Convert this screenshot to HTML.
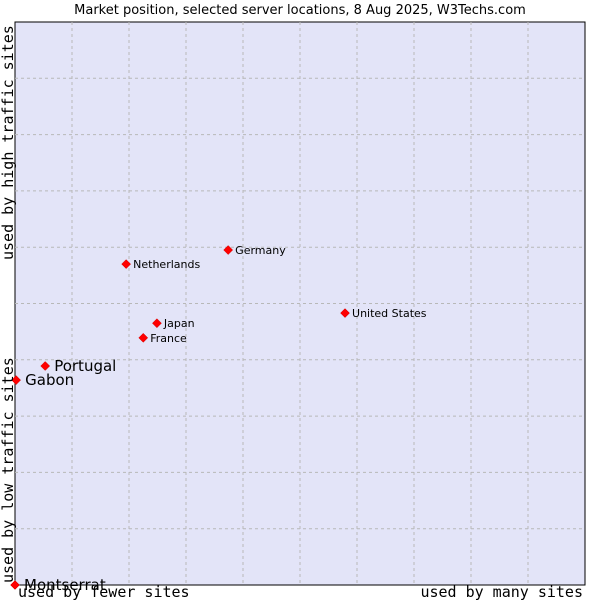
<!DOCTYPE html>
<html><head><meta charset="utf-8"><style>
body{margin:0;background:#fff;}
svg{display:block;font-family:"DejaVu Sans","Liberation Sans",sans-serif;}
.mono{font-family:"DejaVu Sans Mono","Liberation Mono",monospace;}
</style></head><body>
<svg id="chart" width="600" height="600">
<text x="300" y="14" text-anchor="middle" font-size="13">Market position, selected server locations, 8 Aug 2025, W3Techs.com</text>
<rect x="15" y="22" width="570" height="563" fill="#e3e4f8" stroke="#000" stroke-width="1"/>
<g id="grid"></g>
<g id="pts"></g>
<text class="mono" x="18" y="597" font-size="15">used by fewer sites</text>
<text class="mono" x="583" y="597" font-size="15" text-anchor="end">used by many sites</text>
<text class="mono" transform="translate(13,583) rotate(-90)" font-size="15">used by low traffic sites</text>
<text class="mono" transform="translate(13,260) rotate(-90)" font-size="15">used by high traffic sites</text>
</svg>
<script>
const names=["Montserrat","Gabon","Portugal","France","Japan","Netherlands","Germany","United States"];
const xVals=[0,0.2,5.3,22.5,24.9,19.5,37.4,57.9];
const yVals=[0,36.4,38.9,43.9,46.5,57,59.5,48.3];
const bigLabel=[true,true,true,false,false,false,false,false];
const L=15,T=22,W=570,H=563;
const sx=v=>L+v/100*W, sy=v=>T+H-v/100*H;
const NS="http://www.w3.org/2000/svg";
const grid=document.getElementById('grid');
for(let i=1;i<10;i++){
  const a=document.createElementNS(NS,'line');
  
  
  a.setAttribute('x1',sx(i*10));a.setAttribute('x2',sx(i*10));a.setAttribute('y1',T);a.setAttribute('y2',T+H);
  a.setAttribute('stroke','#b8b8b8');a.setAttribute('stroke-dasharray','3,3');grid.appendChild(a);
  const b=document.createElementNS(NS,'line');
  
  
  b.setAttribute('y1',sy(i*10));b.setAttribute('y2',sy(i*10));b.setAttribute('x1',L);b.setAttribute('x2',L+W);
  b.setAttribute('stroke','#b8b8b8');b.setAttribute('stroke-dasharray','3,3');grid.appendChild(b);
}
const pts=document.getElementById('pts');
names.forEach((n,i)=>{
  const x=sx(xVals[i]),y=sy(yVals[i]);
  const d=document.createElementNS(NS,'path');
  
  
  d.setAttribute('d',`M${x} ${y-4.5}L${x+4.5} ${y}L${x} ${y+4.5}L${x-4.5} ${y}Z`);
  d.setAttribute('fill','#f00');d.setAttribute('stroke','#c00');d.setAttribute('stroke-width','0.5');
  pts.appendChild(d);
  const t=document.createElementNS(NS,'text');
  
  
  t.setAttribute('x',x+(bigLabel[i]?9:7));t.setAttribute('y',y+(bigLabel[i]?5:4));
  t.setAttribute('font-size',bigLabel[i]?'15':'11');
  t.textContent=n;pts.appendChild(t);
});
</script>
</body></html>
